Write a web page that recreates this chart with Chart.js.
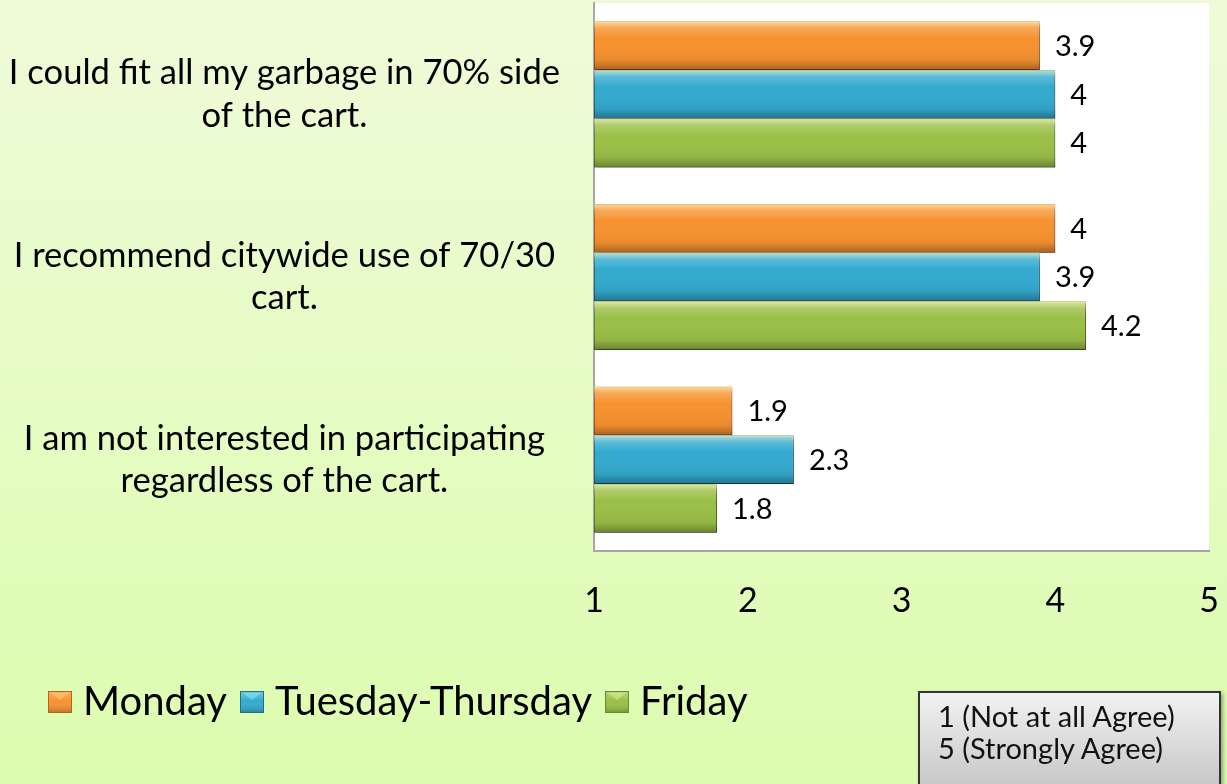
<!DOCTYPE html>
<html>
<head>
<meta charset="utf-8">
<script src="https://cdn.jsdelivr.net/npm/chart.js@4.4.0/dist/chart.umd.min.js"></script>
<style>
  html, body { margin: 0; padding: 0; }
  body {
    width: 1227px; height: 784px; overflow: hidden; position: relative;
    background: linear-gradient(to bottom, #eefbd9 0%, #e6fcc4 50%, #dcfcae 100%);
    font-family: Lato, sans-serif;
  }
  #wrap { position: absolute; left: 0; top: 0; width: 1227px; height: 784px; }
  #note {
    position: absolute; left: 918px; top: 691px; width: 303px; height: 100px;
    box-sizing: border-box; border: 2px solid #333;
    background: linear-gradient(to bottom, #f2f2f2, #c6c6c6);
    box-shadow: 2px 2px 4px rgba(0,0,0,0.35);
    font-size: 29px; line-height: 32px; color: #111; padding: 7px 0 0 18px;
  }
</style>
</head>
<body>
<div id="wrap"><canvas id="surveyChart" width="1227" height="784"></canvas></div>
<div id="note">1 (Not at all Agree)<br>5 (Strongly Agree)</div>
<script>
const categories = [
  ['I could fit all my garbage in 70% side', 'of the cart.'],
  ['I recommend citywide use of 70/30', 'cart.'],
  ['I am not interested in participating', 'regardless of the cart.']
];
const seriesNames = ['Monday', 'Tuesday-Thursday', 'Friday'];
const mondayValues = [3.9, 4, 1.9];
const tuesThursValues = [4, 3.9, 2.3];
const fridayValues = [4, 4.2, 1.8];
const xTicks = [1, 2, 3, 4, 5];

const fillColors = ['#f7922f', '#33aacf', '#9bbf47'];
const edgeColors = ['#b8621c', '#226f86', '#6a8a2e'];
const lightColors = ['#fcc86a', '#7ee6f7', '#d6f08a'];

const padLeft = 35;

// cuadrito biselado para la leyenda
function legendSwatch(i) {
  const c = document.createElement('canvas');
  c.width = 24; c.height = 22;
  const g = c.getContext('2d');
  g.fillStyle = fillColors[i];
  g.fillRect(0, 0, 24, 22);
  const gr = g.createLinearGradient(0, 0, 0, 22);
  gr.addColorStop(0, 'rgba(255,255,255,0.35)');
  gr.addColorStop(0.45, 'rgba(255,255,255,0)');
  gr.addColorStop(1, 'rgba(0,0,0,0.25)');
  g.fillStyle = gr;
  g.fillRect(0, 0, 24, 22);
  g.fillStyle = lightColors[i];
  g.beginPath();
  g.moveTo(3, 2); g.lineTo(21, 2); g.lineTo(12, 9); g.closePath();
  g.globalAlpha = 0.6;
  g.fill();
  g.globalAlpha = 1;
  g.strokeStyle = edgeColors[i];
  g.lineWidth = 1;
  g.strokeRect(0.5, 0.5, 23, 21);
  return c;
}
const swatches = [0, 1, 2].map(legendSwatch);

// fondo blanco del area de trazado; las etiquetas del eje y pueden usar todo el margen
const plotBackground = {
  id: 'plotBackground',
  afterLayout(chart) {
    chart.scales.y.left = 0;
  },
  beforeDraw(chart) {
    const {ctx, chartArea: a} = chart;
    ctx.save();
    ctx.fillStyle = '#ffffff';
    ctx.fillRect(a.left, a.top, a.right - a.left, a.bottom - a.top);
    ctx.restore();
  }
};

// sombra, brillo de las barras y etiquetas de valor
const barDecor = {
  id: 'barDecor',
  beforeDatasetsDraw(chart) {
    const ctx = chart.ctx;
    ctx.save();
    ctx.shadowColor = 'rgba(0,0,0,0.3)';
    ctx.shadowBlur = 4;
    ctx.shadowOffsetX = 2;
    ctx.shadowOffsetY = 3;
  },
  afterDatasetsDraw(chart) {
    const ctx = chart.ctx;
    ctx.restore();
    chart.data.datasets.forEach((ds, i) => {
      const meta = chart.getDatasetMeta(i);
      meta.data.forEach((bar, j) => {
        const p = bar.getProps(['x', 'y', 'base', 'height'], true);
        const top = p.y - p.height / 2;
        const g = ctx.createLinearGradient(0, top, 0, top + p.height);
        g.addColorStop(0, 'rgba(255,255,190,0.65)');
        g.addColorStop(0.14, 'rgba(255,255,255,0.2)');
        g.addColorStop(0.35, 'rgba(255,255,255,0)');
        g.addColorStop(0.8, 'rgba(0,0,0,0.06)');
        g.addColorStop(1, 'rgba(0,0,0,0.32)');
        ctx.save();
        ctx.fillStyle = g;
        ctx.fillRect(p.base, top, p.x - p.base, p.height);
        ctx.restore();

        ctx.save();
        ctx.fillStyle = '#000';
        ctx.font = '29px Lato';
        ctx.textAlign = 'left';
        ctx.textBaseline = 'middle';
        ctx.fillText(String(ds.data[j]), p.x + 15, p.y + 1);
        ctx.restore();
      });
    });
  }
};

const ctxSurvey = document.getElementById('surveyChart').getContext('2d');
const surveyChart = new Chart(ctxSurvey, {
  type: 'bar',
  data: {
    labels: categories,
    datasets: [
      {
        label: seriesNames[0],
        data: mondayValues,
        backgroundColor: fillColors[0],
        borderColor: edgeColors[0],
        borderWidth: 1
      },
      {
        label: seriesNames[1],
        data: tuesThursValues,
        backgroundColor: fillColors[1],
        borderColor: edgeColors[1],
        borderWidth: 1
      },
      {
        label: seriesNames[2],
        data: fridayValues,
        backgroundColor: fillColors[2],
        borderColor: edgeColors[2],
        borderWidth: 1
      }
    ]
  },
  options: {
    indexAxis: 'y',
    responsive: false,
    animation: false,
    base: 1,
    borderSkipped: false,
    barPercentage: 1,
    categoryPercentage: 0.8,
    layout: {
      padding: {top: 3, left: padLeft, right: 18, bottom: 52}
    },
    plugins: {
      legend: {
        position: 'bottom',
        align: 'start',
        labels: {
          usePointStyle: true,
          pointStyleWidth: 6,
          boxHeight: 22,
          padding: 22,
          color: '#000',
          font: {family: 'Lato', size: 40},
          generateLabels: (chart) => {
            const items = Chart.defaults.plugins.legend.labels.generateLabels(chart);
            items.forEach((it, i) => { it.pointStyle = swatches[i]; });
            return items;
          }
        }
      },
      tooltip: {enabled: false}
    },
    scales: {
      x: {
        min: 1,
        max: 5,
        afterBuildTicks: (axis) => { axis.ticks = xTicks.map(v => ({value: v})); },
        afterFit: (axis) => {
          axis.height = 109;
          axis.paddingLeft = 0;
          axis.paddingRight = 0;
        },
        grid: {display: false, drawTicks: false},
        border: {display: true, color: '#a6a6a6', width: 2},
        ticks: {
          color: '#000',
          padding: 30,
          maxRotation: 0,
          font: {family: 'Lato', size: 34}
        }
      },
      y: {
        afterFit: (axis) => {
          axis.width = 594 - padLeft;
          axis.paddingTop = 0;
          axis.paddingBottom = 0;
        },
        grid: {display: false, drawTicks: false},
        border: {display: true, color: '#a6a6a6', width: 2},
        ticks: {
          color: '#000',
          padding: 34,
          crossAlign: 'center',
          font: {family: 'Lato', size: 34.6, lineHeight: 1.23}
        }
      }
    }
  },
  plugins: [plotBackground, barDecor]
});
</script>
</body>
</html>
